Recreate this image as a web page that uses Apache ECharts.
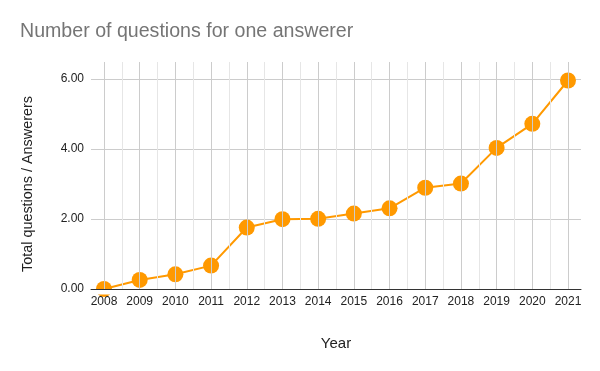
<!DOCTYPE html>
<html>
<head>
<meta charset="utf-8">
<script src="https://cdn.jsdelivr.net/npm/echarts@6/dist/echarts.min.js"></script>
<style>
html,body{margin:0;padding:0;background:#fff;}
#c{width:600px;height:371px;}
</style>
</head>
<body>
<div id="c"></div>
<script>
const years = [2008,2009,2010,2011,2012,2013,2014,2015,2016,2017,2018,2019,2020,2021];
const ratio = [0.00,0.26,0.42,0.67,1.76,2.00,2.01,2.16,2.31,2.90,3.02,4.04,4.73,5.97];
const yTicks = [0,2,4,6];

const FONT = 'Liberation Sans, Arial, sans-serif';
const chart = echarts.init(document.getElementById('c'), null, {renderer:'canvas'});
const data = years.map((y,i)=>[y, ratio[i]]);

chart.setOption({
  animation:false,
  backgroundColor:'#fff',
  textStyle:{fontFamily:FONT},
  title:{
    text:'Number of questions for one answerer',
    left:15, top:17,
    textStyle:{fontFamily:FONT,fontSize:19.6,fontWeight:'normal',color:'#757575'}
  },
  grid:[
    {left:91, right:19, top:79, bottom:82},
    {left:104, right:32, top:62, bottom:82}
  ],
  xAxis:[
    {gridIndex:0,type:'value',min:0,max:1,z:10,
     axisLine:{show:true,onZero:false,lineStyle:{color:'#333',width:1}},
     axisTick:{show:false},axisLabel:{show:false},splitLine:{show:false},
     name:'Year',nameLocation:'middle',nameGap:47,
     nameTextStyle:{fontFamily:FONT,fontSize:15,color:'#222'}},
    {gridIndex:1,type:'value',min:years[0],max:years[years.length-1],interval:1,z:10,
     axisLine:{show:false},axisTick:{show:false},
     axisLabel:{show:true,margin:7,fontFamily:FONT,fontSize:12,color:'#222',formatter:v=>String(v)},
     splitLine:{show:true,lineStyle:{color:'#cccccc',width:1}},
     minorTick:{show:false,splitNumber:2},
     minorSplitLine:{show:true,lineStyle:{color:'#e6e6e6',width:1}}}
  ],
  yAxis:[
    {gridIndex:0,type:'value',min:yTicks[0],max:yTicks[yTicks.length-1],interval:2,
     axisLine:{show:false},axisTick:{show:false},
     axisLabel:{margin:7,fontFamily:FONT,fontSize:12,color:'#222',formatter:v=>v.toFixed(2)},
     splitLine:{show:true,lineStyle:{color:'#cccccc',width:1}},
     name:'Total questions / Answerers',nameLocation:'middle',nameGap:56,
     nameTextStyle:{fontFamily:FONT,fontSize:14.4,color:'#222'}},
    {gridIndex:1,type:'value',min:0,max:6.5,show:false,splitLine:{show:false}}
  ],
  graphic:[
    {type:'rect',shape:{x:94,y:289.5,width:20,height:5},style:{fill:'#fff'},z:5}
  ],
  series:[{
    type:'line',xAxisIndex:1,yAxisIndex:1,data:data,
    symbol:'circle',symbolSize:16,showAllSymbol:true,
    itemStyle:{color:'#ff9900'},
    lineStyle:{color:'#ff9900',width:2},
    clip:false,z:3
  }]
});
</script>
</body>
</html>
